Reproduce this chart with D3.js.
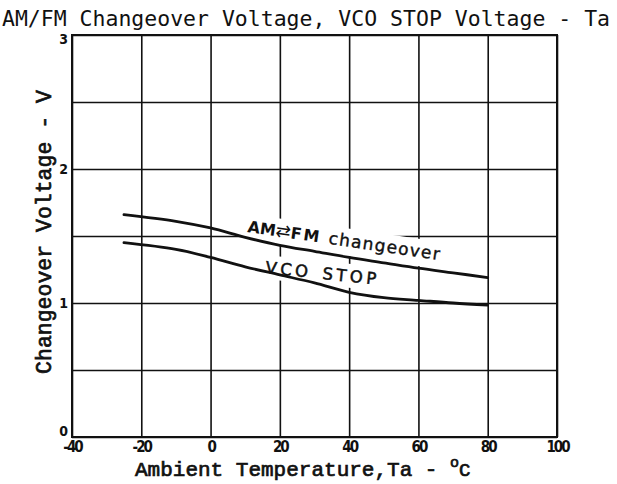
<!DOCTYPE html>
<html>
<head>
<meta charset="utf-8">
<script src="https://cdn.jsdelivr.net/npm/d3@7"></script>
<style>
  html, body { margin: 0; padding: 0; background: #fff; }
  svg { display: block; }
</style>
</head>
<body>
<script>
// Temperature axis (deg C) and voltage axis (V)
const xTicks = [-40, -20, 0, 20, 40, 60, 80, 100];
const yTicks = [0, 0.5, 1, 1.5, 2, 2.5, 3];
const yLabelled = [0, 1, 2, 3];

// AM <-> FM changeover voltage vs ambient temperature
const changeoverTemp = [-25, -10, 0, 10, 20, 30, 40, 50, 60, 70, 80];
const changeoverVolt = [1.66, 1.61, 1.56, 1.49, 1.43, 1.385, 1.34, 1.30, 1.26, 1.225, 1.19];

// VCO stop voltage vs ambient temperature
const vcoTemp = [-25, -10, 0, 10, 20, 30, 40, 50, 60, 70, 80];
const vcoVolt = [1.45, 1.40, 1.34, 1.27, 1.21, 1.15, 1.08, 1.04, 1.02, 1.00, 0.985];

const W = 617, H = 484;
const svg = d3.select("body").append("svg").attr("width", W).attr("height", H);

const x = d3.scaleLinear().domain([-40, 100]).range([72, 557]);
const y = d3.scaleLinear().domain([0, 3]).range([437, 35]);

const ink = "#111";

// Title
svg.append("text")
  .attr("x", 2).attr("y", 26)
  .attr("font-family", "'DejaVu Sans Mono', monospace")
  .attr("font-size", 21.5)
  .attr("textLength", 608)
  .attr("lengthAdjust", "spacingAndGlyphs")
  .attr("fill", ink)
  .text("AM/FM Changeover Voltage, VCO STOP Voltage - Ta");

// Grid via axes
const gx = svg.append("g")
  .attr("transform", `translate(0,${y(0)})`)
  .call(d3.axisBottom(x).tickValues(xTicks).tickSize(-(y(0) - y(3))).tickPadding(4)
    .tickFormat(d => d));
gx.select(".domain").remove();
gx.selectAll("line").attr("stroke", ink).attr("stroke-width", 1.6);
gx.selectAll("text")
  .attr("font-family", "'DejaVu Sans Condensed', 'DejaVu Sans', sans-serif")
  .attr("font-weight", "bold")
  .attr("font-size", 15)
  .attr("letter-spacing", -2)
  .attr("fill", ink);

const gy = svg.append("g")
  .attr("transform", `translate(${x(-40)},0)`)
  .call(d3.axisLeft(y).tickValues(yTicks).tickSize(-(x(100) - x(-40))).tickPadding(4)
    .tickFormat(d => yLabelled.includes(d) ? d : ""));
gy.select(".domain").remove();
gy.selectAll("line").attr("stroke", ink).attr("stroke-width", 1.6);
gy.selectAll("text")
  .attr("font-family", "'DejaVu Sans Condensed', 'DejaVu Sans', sans-serif")
  .attr("font-weight", "bold")
  .attr("font-size", 14)
  .attr("fill", ink)
  .attr("dy", d => d === 0 ? "-0.1em" : d === 3 ? "0.6em" : "0.32em");

// Plot frame
svg.append("rect")
  .attr("x", x(-40)).attr("y", y(3))
  .attr("width", x(100) - x(-40)).attr("height", y(0) - y(3))
  .attr("fill", "none").attr("stroke", ink).attr("stroke-width", 2);

// Curve labels, each set on a white band that clears the grid behind it
function curveLabel(px, py, angle, bandTop, bandBottom, bandLen, build) {
  const g = svg.append("g")
    .attr("transform", `translate(${px},${py}) rotate(${angle})`);
  g.append("rect")
    .attr("x", -4).attr("y", -bandTop)
    .attr("width", bandLen).attr("height", bandTop + bandBottom)
    .attr("fill", "#fff");
  const t = g.append("text")
    .attr("fill", ink)
    .attr("font-family", "'DejaVu Sans', sans-serif")
    .attr("font-weight", "bold")
    .attr("font-size", 16);
  build(t);
}

curveLabel(x(10.5), y(1.53), 8.3, 18, 9, 225, t => {
  t.append("tspan").text("AM");
  t.append("tspan").attr("font-size", 18).attr("font-weight", "normal").text("\u21C4");
  t.append("tspan").attr("letter-spacing", 2).text("FM ");
  t.append("tspan").attr("font-size", 17).attr("font-weight", "normal").attr("letter-spacing", 1.3)
    .attr("stroke", ink).attr("stroke-width", 0.4).text("changeover");
});
curveLabel(x(15.7), y(1.224), 6, 18, 6, 125, t => {
  t.attr("letter-spacing", 3.5).attr("font-weight", "normal").attr("font-size", 16.5)
    .attr("stroke", ink).attr("stroke-width", 0.5);
  t.append("tspan").text("VCO");
  t.append("tspan").attr("dx", 11).text("STOP");
});

// Curves
const line = d3.line().x(d => x(d[0])).y(d => y(d[1])).curve(d3.curveCatmullRom.alpha(0.5));
[[changeoverTemp, changeoverVolt], [vcoTemp, vcoVolt]].forEach(([ts, vs]) => {
  svg.append("path")
    .datum(ts.map((t, i) => [t, vs[i]]))
    .attr("d", line)
    .attr("fill", "none")
    .attr("stroke", ink)
    .attr("stroke-width", 2.8)
    .attr("stroke-linecap", "round");
});

// Axis titles
svg.append("text")
  .attr("transform", `translate(51,${232}) rotate(-90)`)
  .attr("text-anchor", "middle")
  .attr("font-family", "'Liberation Mono', 'Courier New', monospace")
  .attr("font-size", 21.5)
  .attr("stroke", ink).attr("stroke-width", 0.7)
  .attr("fill", ink)
  .text("Changeover Voltage - V");

const xt = svg.append("text")
  .attr("x", 135).attr("y", 476)
  .attr("font-family", "'Liberation Mono', 'Courier New', monospace")
  .attr("font-size", 21)
  .attr("stroke", ink).attr("stroke-width", 0.7)
  .attr("fill", ink);
xt.append("tspan").text("Ambient Temperature,Ta - ");
xt.append("tspan").attr("dy", -9).attr("font-size", 15).text("o");
xt.append("tspan").attr("dy", 9).attr("font-size", 19).text("C");
</script>
</body>
</html>
